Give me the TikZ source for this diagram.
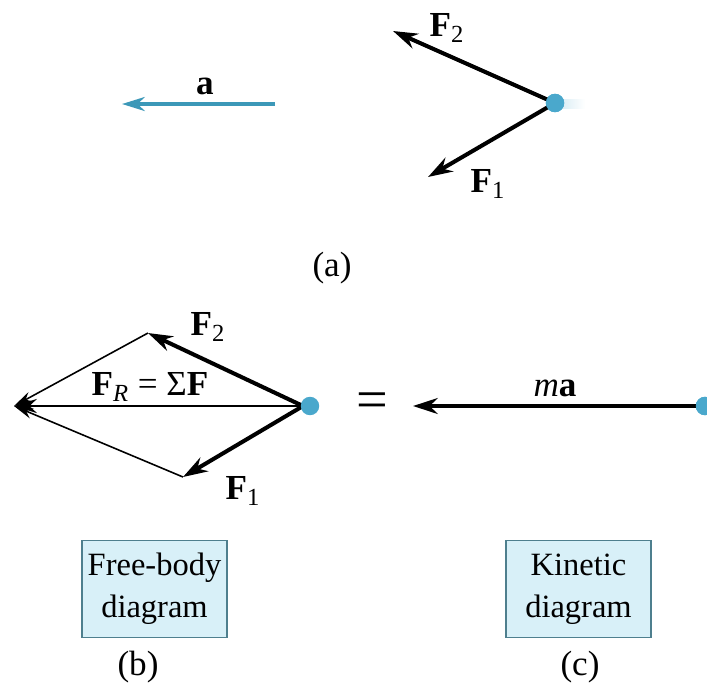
\documentclass[tikz,border=0pt]{standalone}
\usepackage{fontspec}
\setmainfont{Liberation Serif}
\usetikzlibrary{arrows.meta}
\definecolor{partblue}{HTML}{4AA8CC}
\definecolor{accblue}{HTML}{3C98B8}
\definecolor{boxfill}{HTML}{D8F0F8}
\definecolor{boxline}{HTML}{4E7F8E}
\begin{document}
\begin{tikzpicture}[x=0.02cm,y=-0.02cm,
  lbl/.style={font=\fontsize{20}{22}\selectfont, inner sep=1pt},
  force/.style={line width=2.3pt, -{Stealth[length=14pt,width=9pt]}},
  thinvec/.style={line width=0.9pt, -{Stealth[length=11pt,width=6pt]}},
  particle/.style={circle, fill=partblue, inner sep=0pt, minimum size=10.5pt},
  capbox/.style={draw=boxline, line width=1pt, fill=boxfill, minimum width=2.9cm, minimum height=1.94cm, align=center, font=\fontsize{18.5}{24}\selectfont, inner sep=0pt},
  caption/.style={font=\fontsize{20}{22}\selectfont}]
\useasboundingbox (0,0) rectangle (707,691);
% (a)
\coordinate (aS) at (275,104);
\coordinate (aE) at (122,104);
\draw[accblue, line width=2pt, -{Stealth[length=13pt,width=8pt]}] (aS) -- (aE);
\node[lbl] (alab) at (205,86) {\textbf{a}};
\shade[left color=partblue!35, right color=white, opacity=0.6] (560,99) rectangle (585,108);
\node[particle] (P1) at (555,103) {};
\coordinate (F2a) at (393,31);
\coordinate (F1a) at (428,177);
\draw[force] (P1.center) -- (F2a);
\draw[force] (P1.center) -- (F1a);
\node[particle] at (555,103) {};
\node[lbl] (F2al) at (447,28) {\textbf{F}\textsubscript{2}};
\node[lbl] (F1al) at (488,184) {\textbf{F}\textsubscript{1}};
\node[caption] (capa) at (332,268) {(a)};
% (b)
\coordinate (tip) at (14,406);
\coordinate (F2b) at (148,333);
\coordinate (F1b) at (183,477);
\draw[thinvec] (F2b) -- (tip);
\draw[thinvec] (F1b) -- (tip);
\draw[line width=1.4pt, -{Stealth[length=13pt,width=8pt]}] (303,406) -- (tip);
\draw[force] (303,406) -- (F2b);
\draw[force] (303,406) -- (F1b);
\node[particle] (P2) at (310,406) {};
\node[lbl] (FRl) at (150,387) {\textbf{F}\textsubscript{\textit{R}} = Σ\textbf{F}};
\node[lbl] (F2bl) at (208,327) {\textbf{F}\textsubscript{2}};
\node[lbl] (F1bl) at (243,491) {\textbf{F}\textsubscript{1}};
\node[font=\fontsize{32}{32}\selectfont] (eq) at (372,406) {=};
% (c)
\node[particle] (P3) at (705,406) {};
\coordinate (maE) at (413,406);
\draw[force] (P3.center) -- (maE);
\node[particle] at (705,406) {};
\node[lbl] (mal) at (555,388) {\textit{m}\textbf{a}};
% boxes
\node[capbox] (fbd) at (154.5,589) {Free-body\\diagram};
\node[capbox] (kd) at (578.5,589) {Kinetic\\diagram};
\node[caption] (capb) at (138,667) {(b)};
\node[caption] (capc) at (580,667) {(c)};
\end{tikzpicture}
\end{document}
